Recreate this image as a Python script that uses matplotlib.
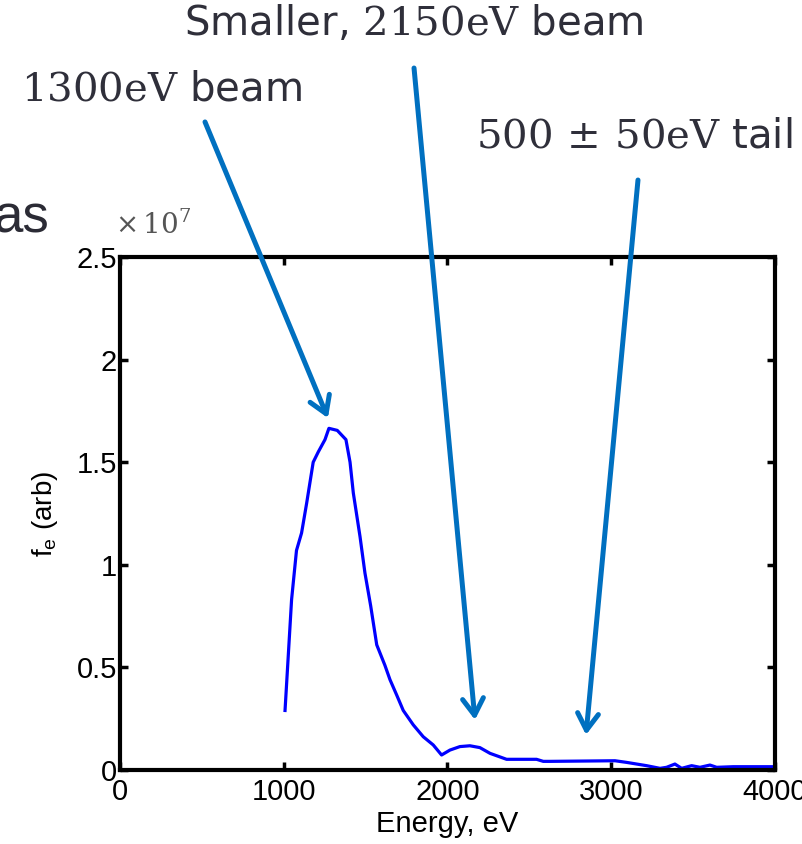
import matplotlib
matplotlib.use("Agg")
import matplotlib.pyplot as plt

plt.rcParams['font.family'] = ['Liberation Sans', 'DejaVu Sans']
plt.rcParams['mathtext.fontset'] = 'custom'
plt.rcParams['mathtext.rm'] = 'DejaVu Serif'
plt.rcParams['mathtext.it'] = 'DejaVu Serif:italic'
plt.rcParams['mathtext.sf'] = 'Liberation Sans'

# energy (eV) and f_e in units of 1e7
energy = [1008, 1048, 1078, 1109, 1140, 1180, 1211, 1252, 1276, 1327, 1380, 1405,
          1425, 1466, 1496, 1531, 1568, 1618, 1649, 1690, 1730, 1791, 1852, 1913,
          1964, 2015, 2076, 2137, 2198, 2260, 2361, 2544, 2585, 2626, 3023, 3094,
          3216, 3298, 3338, 3389, 3430, 3491, 3542, 3603, 3644, 3745, 4000]
fe_1e7 = [0.29, 0.83, 1.07, 1.155, 1.30, 1.50, 1.55, 1.61, 1.665, 1.655, 1.61, 1.50,
          1.35, 1.137, 0.96, 0.80, 0.61, 0.51, 0.44, 0.365, 0.29, 0.22, 0.162, 0.122,
          0.073, 0.097, 0.114, 0.118, 0.109, 0.081, 0.052, 0.052, 0.042, 0.042, 0.045, 0.037,
          0.021, 0.008, 0.013, 0.029, 0.008, 0.021, 0.013, 0.024, 0.013, 0.016, 0.016]

x_ticks = [0, 1000, 2000, 3000, 4000]
y_ticks = [0, 0.5, 1, 1.5, 2, 2.5]
y_ticklabels = ['0', '0.5', '1', '1.5', '2', '2.5']

# annotations: label, arrow tip (data), arrow start (figure fraction), label centre
notes = [
    (r'$\mathrm{1300eV}$ beam', (1270, 1.715), (0.2553, 0.8555), (0.2005, 0.894)),
    (r'Smaller, $\mathrm{2150eV}$ beam', (2168, 0.244), (0.5156, 0.9194), (0.5156, 0.972)),
    (r'$500\,\pm\,50\mathrm{eV}$ tail', (2846, 0.171), (0.7945, 0.7867), (0.790, 0.838)),
]

fig = plt.figure(figsize=(8.03, 8.44), dpi=100)
ax = fig.add_axes([0.1494, 0.0877, 0.8157, 0.6078])

ax.plot(energy, fe_1e7, color='#0000ff', lw=2.3)
ax.set_xlim(0, 4000)
ax.set_ylim(0, 2.5)
ax.set_xticks(x_ticks)
ax.set_yticks(y_ticks)
ax.set_yticklabels(y_ticklabels)
ax.tick_params(direction='in', length=6, width=2.5, labelsize=21, top=True, right=True, pad=2)
ax.tick_params(axis='x', pad=6)
for s in ax.spines.values():
    s.set_linewidth(3)
ax.set_xlabel('Energy, eV', fontsize=21, labelpad=3)
ax.set_ylabel(r'$\mathsf{f_e}$ (arb)', fontsize=20, labelpad=12)

fig.text(0.143, 0.733, r'$\times\,10^{7}$', fontsize=20, color='#555555', ha='left', va='center')
fig.text(50 / 803, 0.741, 'as', fontsize=38, color='#2b2b35', ha='right', va='center')

for label, tip, start, tpos in notes:
    ax.annotate('', xy=tip, xycoords='data', xytext=start, textcoords='figure fraction',
                annotation_clip=False,
                arrowprops=dict(arrowstyle='->,head_length=0.4,head_width=0.25',
                                color='#0070c0', lw=3.6, mutation_scale=30,
                                shrinkA=0, shrinkB=0))
    fig.text(tpos[0], tpos[1], label, fontsize=29, color='#2f2f3a', ha='center', va='center',
             family=['DejaVu Sans'])

fig.savefig('out.png', dpi=100)
